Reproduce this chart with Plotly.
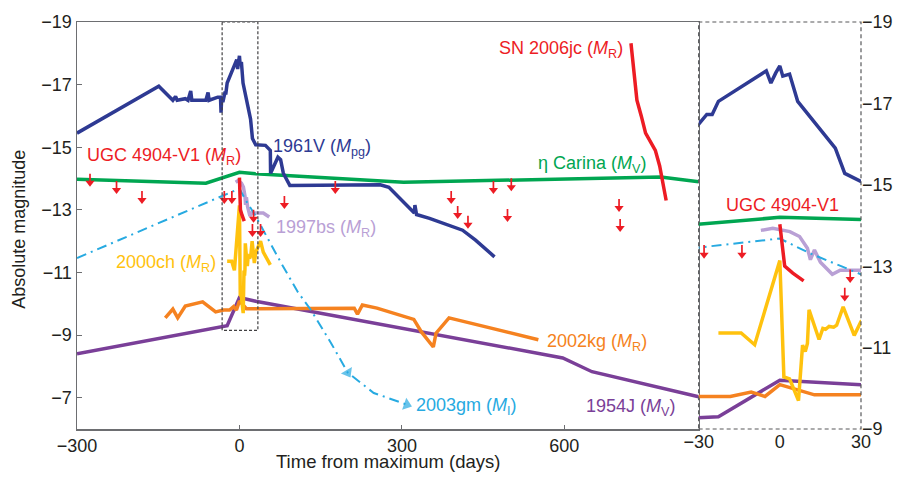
import plotly.graph_objects as go

# ---------------- data (days from maximum, absolute magnitude) ----------------
sn1961v_day = [-300, -149, -123, -118, -115, -100, -95, -90, -88, -70, -62, -58, -56, -40, -35, -34, -33,
               -30, -27, -25, -22.7, -5, -3.3, -1.5, 0, 1.1, 3.6, 6.6, 20.5, 24, 26.7, 30,
               48, 57, 57.5, 71, 76, 81, 93, 260, 276, 300, 323, 324, 327, 351, 412, 436, 471]
sn1961v_mag = [-15.45, -16.95, -16.5, -16.62, -16.5, -16.55, -16.5, -16.8, -16.5, -16.5, -16.5, -16.75, -16.5, -16.6, -16.6, -16.1, -16.5,
               -16.49, -16.73, -16.73, -17.05, -17.8, -17.5, -17.75, -17.92, -17.67, -17.72, -17.05, -15.9, -15.28, -15.2, -15.08,
               -15.06, -14.9, -14.17, -14.68, -14.6, -14.17, -13.78, -13.8, -13.72, -13.31, -12.9, -13.15, -12.85, -12.73, -12.35, -12.03, -11.5]

etacar_day = [-300, -62, 0, 30, 303, 778, 848]
etacar_mag = [-13.98, -13.85, -14.2, -14.15, -13.88, -14.05, -13.9]

sn2006jc_day = [723, 729, 734, 742, 750, 768, 776, 788]
sn2006jc_mag = [-18.32, -17.4, -16.5, -16.0, -15.45, -14.9, -14.4, -13.3]

ugc4904_day = [0, 1.8, 4.8, 8.8]
ugc4904_mag = [-14.03, -13.0, -12.83, -12.64]

ulim_day = [-276, -227, -180, -28, -14, 24, 26, 39, 83, 177, 391, 403, 422, 469, 495, 502, 701, 703]
ulim_mag = [-13.70, -13.47, -13.15, -13.15, -13.15, -12.1, -12.55, -12.1, -12.99, -13.47, -13.15, -12.67,
            -12.36, -13.47, -12.58, -13.56, -12.9, -12.26]

sn1997bs_day = [-7, -2.6, 3.7, 7.3, 10.2, 11.3, 12.8, 15, 19.4, 22.3, 29.6, 44, 55]
sn1997bs_mag = [-13.88, -13.93, -13.85, -13.73, -13.44, -13.16, -13.4, -13.1, -12.8, -12.9, -12.9, -12.9, -12.77]

sn2003gm_day = [-300, 0, 11, 30, 44, 77, 108, 132, 169, 187, 200, 248, 309]
sn2003gm_mag = [-11.46, -13.68, -13.32, -12.8, -12.35, -11.3, -10.37, -9.8, -8.75, -8.2, -7.8, -7.15, -6.78]
sn2003gm_arrow = [0, 0, 0, 0, 0, 0, 0, 0, 0, 0, 1, 0, 1]

sn2000ch_day = [-22.7, -14.3, -9.3, 0, 1.5, 3.6, 6.9, 8.4, 9.4, 10.2, 10.8, 12.2, 14.5, 15.9, 16.9, 18.2,
                19.9, 21, 23.4, 27.5, 30, 39, 44, 57]
sn2000ch_mag = [-11.36, -11.36, -11.07, -13.14, -10.28, -10.23, -9.7, -11.06, -10.9, -11.1, -11.93, -11.64,
                -11.2, -11.47, -11.45, -11.52, -11.5, -11.55, -12.0, -11.3, -11.64, -12.0, -11.65, -11.24]

sn2002kg_day = [-137, -123, -114, -100, -68, -44, -29.3, -18.3, -10.6, -5.5, 0, 12.8, 30, 212, 218, 227,
                254, 322, 336, 358, 363, 387, 552]
sn2002kg_mag = [-9.55, -9.83, -9.55, -9.93, -10.06, -9.74, -9.8, -9.8, -9.91, -9.8, -10.09, -9.84, -9.84,
                -9.86, -9.67, -9.96, -9.86, -9.5, -9.1, -8.62, -9.06, -9.55, -8.85]

sn1954j_day = [-300, -22.7, 0, 30, 597, 651, 848]
sn1954j_mag = [-8.4, -9.3, -10.2, -10.08, -8.27, -7.83, -7.03]

main_xticks = [-300, 0, 300, 600]
main_xtext = ["\u2212300", "0", "300", "600"]
main_yticks = [-19, -17, -15, -13, -11, -9, -7]
inset_xticks = [-30, 0, 30]
inset_xtext = ["\u221230", "0", "30"]
inset_yticks = [-19, -17, -15, -13, -11, -9]


def neg(v):
    return ("\u2212" + str(abs(v))) if v < 0 else str(v)


# ---------------- styles ----------------
C_BLUE = "#2e3a93"
C_GREEN = "#00a651"
C_RED = "#ed1c24"
C_LAV = "#b9a0d5"
C_CYAN = "#27aae1"
C_YEL = "#ffc20e"
C_ORA = "#f58220"
C_PUR = "#7a3f98"
AX = "#6d6e71"
FONT = "Liberation Sans, Arial, Helvetica, sans-serif"
FS = 18
LW = 3.5

fig = go.Figure()

series = [
    (etacar_day, etacar_mag, C_GREEN),
    (sn1954j_day, sn1954j_mag, C_PUR),
    (sn2002kg_day, sn2002kg_mag, C_ORA),
    (sn1997bs_day, sn1997bs_mag, C_LAV),
    (sn1961v_day, sn1961v_mag, C_BLUE),
    (sn2000ch_day, sn2000ch_mag, C_YEL),
    (ugc4904_day, ugc4904_mag, C_RED),
    (sn2006jc_day, sn2006jc_mag, C_RED),
]


def add_limits(xa, ya, arrow_len, keep):
    xs, ys, tx, ty = [], [], [], []
    for d, m in zip(ulim_day, ulim_mag):
        if not keep(d):
            continue
        head = m - 0.36 * arrow_len
        xs += [d, d, None]
        ys += [m - arrow_len, head, None]
        tx.append(d)
        ty.append(head)
    fig.add_trace(go.Scatter(x=xs, y=ys, mode="lines", line=dict(color=C_RED, width=1.7),
                             xaxis=xa, yaxis=ya, hoverinfo="skip", showlegend=False))
    fig.add_trace(go.Scatter(x=tx, y=ty, mode="markers",
                             marker=dict(color=C_RED, size=8, symbol="triangle-down", line=dict(width=0)),
                             xaxis=xa, yaxis=ya, hoverinfo="skip", showlegend=False))


for xa, ya, alen, keep in (("x", "y", 0.45, lambda d: True), ("x2", "y2", 0.37, lambda d: -30 <= d <= 30)):
    for d, m, c in series[:4]:
        fig.add_trace(go.Scatter(x=d, y=m, mode="lines", line=dict(color=c, width=LW),
                                 xaxis=xa, yaxis=ya, hoverinfo="skip", showlegend=False))
    fig.add_trace(go.Scatter(
        x=sn2003gm_day, y=sn2003gm_mag, mode="lines+markers",
        line=dict(color=C_CYAN, width=2, dash="10px,5px,2px,5px"),
        marker=dict(color=C_CYAN, size=[11 * a for a in sn2003gm_arrow], symbol="triangle-up",
                    angleref="previous", line=dict(width=0)),
        xaxis=xa, yaxis=ya, hoverinfo="skip", showlegend=False))
    for d, m, c in series[4:]:
        fig.add_trace(go.Scatter(x=d, y=m, mode="lines", line=dict(color=c, width=LW),
                                 xaxis=xa, yaxis=ya, hoverinfo="skip", showlegend=False))
    add_limits(xa, ya, alen, keep)

annotations = []
labels = [
    ("UGC 4904-V1 (<i>M</i><sub>R</sub>)", -285, -14.69, C_RED, "x", "y"),
    ("1961V (<i>M</i><sub>pg</sub>)", 58, -14.98, C_BLUE, "x", "y"),
    ("\u03b7 Carina (<i>M</i><sub>V</sub>)", 547, -14.45, C_GREEN, "x", "y"),
    ("SN 2006jc (<i>M</i><sub>R</sub>)", 475, -18.12, C_RED, "x", "y"),
    ("1997bs (<i>M</i><sub>R</sub>)", 63, -12.42, C_LAV, "x", "y"),
    ("2000ch (<i>M</i><sub>R</sub>)", -232, -11.3, C_YEL, "x", "y"),
    ("2002kg (<i>M</i><sub>R</sub>)", 564, -8.75, C_ORA, "x", "y"),
    ("2003gm (<i>M</i><sub>I</sub>)", 323, -6.72, C_CYAN, "x", "y"),
    ("1954J (<i>M</i><sub>V</sub>)", 636, -6.69, C_PUR, "x", "y"),
    ("UGC 4904-V1", -20.7, -14.5, C_RED, "x2", "y2"),
]
for t, x, y, c, xr, yr in labels:
    annotations.append(dict(text=t, x=x, y=y, xref=xr, yref=yr, xanchor="left", yanchor="middle",
                            showarrow=False, font=dict(family=FONT, size=FS, color=c)))

split = (705 - 77) / 792

annotations.append(dict(text="Absolute magnitude", xref="paper", yref="paper", x=-0.074, y=0.492,
                        textangle=-90, showarrow=False, xanchor="center", yanchor="middle",
                        font=dict(family=FONT, size=FS, color="#231f20")))
annotations.append(dict(text="Time from maximum (days)", xref="paper", yref="paper", x=split / 2, y=-0.05,
                        showarrow=False, xanchor="center", yanchor="top",
                        font=dict(family=FONT, size=18.5, color="#231f20")))

shapes = [
    dict(type="rect", xref="x", yref="y", x0=-32, x1=34, y0=-19, y1=-9.15,
         line=dict(color="#414042", width=1.2, dash="3px,2px"), layer="above"),
    dict(type="rect", xref="paper", yref="paper", x0=split, x1=1, y0=0, y1=1,
         line=dict(color="#58595b", width=1.2, dash="4px,3px"), layer="above"),
]

tickfont = dict(family=FONT, size=FS, color="#231f20")
fig.update_layout(
    width=905, height=477,
    margin=dict(l=77, r=36, t=22, b=48),
    paper_bgcolor="white", plot_bgcolor="white",
    showlegend=False,
    annotations=annotations, shapes=shapes,
    xaxis=dict(domain=[0, split], range=[-300, 848], tickvals=main_xticks, ticktext=main_xtext,
               ticks="inside", ticklen=4, tickcolor=AX, showline=True, linecolor=AX, linewidth=1.5,
               mirror=True, showgrid=False, zeroline=False, tickfont=tickfont, anchor="y"),
    yaxis=dict(domain=[0, 1], range=[-6, -19], tickvals=main_yticks, ticktext=[neg(v) for v in main_yticks],
               ticks="inside", ticklen=5, tickcolor=AX, showline=True, linecolor=AX, linewidth=1.5,
               mirror=True, showgrid=False, zeroline=False, tickfont=tickfont, anchor="x"),
    xaxis2=dict(domain=[split, 1], range=[-30, 30], tickvals=inset_xticks, ticktext=inset_xtext,
                ticks="", showline=False, showgrid=False, zeroline=False, tickfont=tickfont, anchor="y2"),
    yaxis2=dict(domain=[0, 1], range=[-9, -19], tickvals=inset_yticks, ticktext=[neg(v) for v in inset_yticks],
                ticks="", side="right", showline=False, showgrid=False, zeroline=False, tickfont=tickfont,
                anchor="x2"),
)

# remove the default 8px page margin so the 905x477 figure fills the window exactly
fig.write_html("out.html", config={"displayModeBar": False, "staticPlot": True},
               post_script="document.body.style.margin='0';document.body.style.overflow='hidden';")
